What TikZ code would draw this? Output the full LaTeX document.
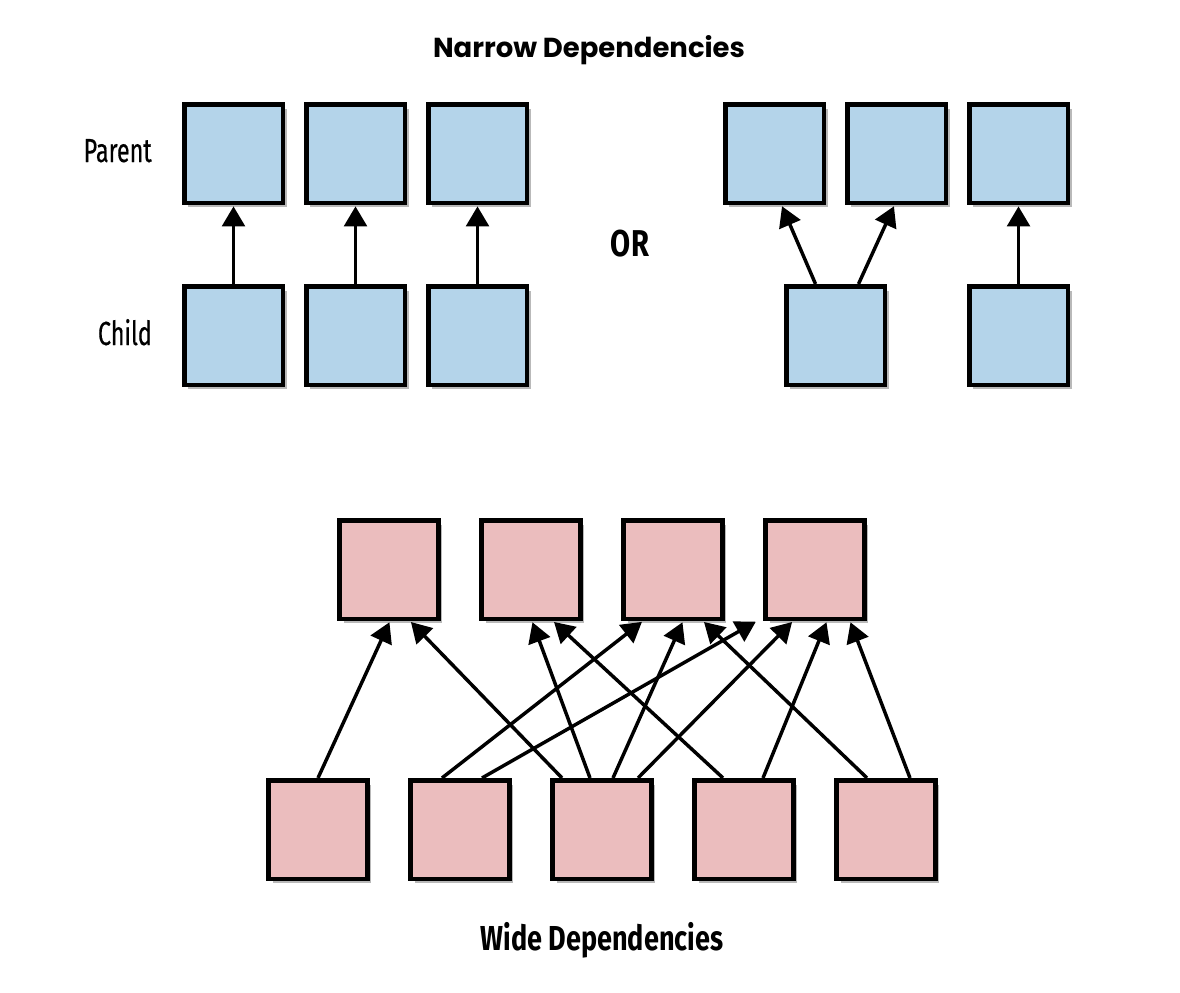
\documentclass[tikz,border=0pt]{standalone}
\usepackage{fontspec}
\setmainfont{Fira Sans}
\newfontfamily\titlefont{Poppins}
\newfontfamily\condfont[FakeStretch=0.70,FakeBold=0.4]{Fira Sans}
\newfontfamily\condboldfont[FakeStretch=0.78]{Fira Sans}
\usetikzlibrary{arrows.meta,shadows,calc}
\definecolor{narrowblue}{HTML}{B4D4EA}
\definecolor{widered}{HTML}{EBBDBE}
\tikzset{
  part/.style={draw=black, line width=3.4pt, minimum size=73.9pt, inner sep=0pt,
    drop shadow={shadow xshift=3pt, shadow yshift=-3.5pt, fill=black!55, opacity=0.5}},
  narrow/.style={part, fill=narrowblue},
  wide/.style={part, fill=widered},
  dep/.style={line width=2.6pt, shorten >=1pt, -{Triangle[length=15pt,width=17pt]}}
}
\begin{document}
\begin{tikzpicture}[x=0.75pt, y=-0.75pt]
  \useasboundingbox (0,0) rectangle (1180,992);

  % titles and row labels
  \node[anchor=base] (narrowtitle) at (589,57) {\titlefont\bfseries\fontsize{20.6pt}{24pt}\selectfont Narrow Dependencies};
  \node[anchor=base east, inner sep=0pt] (parentlbl) at (152,162) {\condfont\fontsize{25pt}{30pt}\selectfont Parent};
  \node[anchor=base east, inner sep=0pt] (childlbl) at (152,345) {\condfont\fontsize{25pt}{30pt}\selectfont Child};
  \node[anchor=base, inner sep=0pt] (orlbl) at (630,256) {\condboldfont\bfseries\fontsize{28pt}{32pt}\selectfont OR};
  \node[anchor=base, inner sep=0pt] (widetitle) at (602,950) {\condboldfont\bfseries\fontsize{26pt}{31pt}\selectfont Wide Dependencies};

  % narrow, one to one
  \node[narrow] (lp1) at (233.5,153.5) {};
  \node[narrow] (lp2) at (355.5,153.5) {};
  \node[narrow] (lp3) at (477.5,153.5) {};
  \node[narrow] (lc1) at (233.5,335.5) {};
  \node[narrow] (lc2) at (355.5,335.5) {};
  \node[narrow] (lc3) at (477.5,335.5) {};
  \draw[dep] (lc1.north) -- (lp1.south);
  \draw[dep] (lc2.north) -- (lp2.south);
  \draw[dep] (lc3.north) -- (lp3.south);

  % narrow, many to one
  \node[narrow] (rp1) at (774.5,153.5) {};
  \node[narrow] (rp2) at (896.5,153.5) {};
  \node[narrow] (rp3) at (1018.5,153.5) {};
  \node[narrow] (rc1) at (835.5,335.5) {};
  \node[narrow] (rc2) at (1018.5,335.5) {};
  \draw[dep] ($(rc1.north)+(-20,0)$) -- ($(rp1.south)+(7,0)$);
  \draw[dep] ($(rc1.north)+(23,0)$) -- ($(rp2.south)+(-2,0)$);
  \draw[dep] (rc2.north) -- (rp3.south);

  % wide
  \node[wide] (wp1) at (389,569.5) {};
  \node[wide] (wp2) at (531,569.5) {};
  \node[wide] (wp3) at (673,569.5) {};
  \node[wide] (wp4) at (815,569.5) {};
  \node[wide] (wc1) at (318,829.5) {};
  \node[wide] (wc2) at (460,829.5) {};
  \node[wide] (wc3) at (602,829.5) {};
  \node[wide] (wc4) at (744,829.5) {};
  \node[wide] (wc5) at (886,829.5) {};
  \draw[dep] (wc1.north) -- ($(wp1.south)+(1,0)$);
  \draw[dep] ($(wc3.north)+(-40,0)$) -- ($(wp1.south)+(21,0)$);
  \draw[dep] ($(wc3.north)+(-12,0)$) -- ($(wp2.south)+(1,0)$);
  \draw[dep] ($(wc4.north)+(-21,0)$) -- ($(wp2.south)+(22,0)$);
  \draw[dep] ($(wc2.north)+(-18,0)$) -- ($(wp3.south)+(-30,0)$);
  \draw[dep] ($(wc3.north)+(11,0)$) -- ($(wp3.south)+(10,0)$);
  \draw[dep] ($(wc5.north)+(-19,0)$) -- ($(wp3.south)+(30,0)$);
  \draw[dep] ($(wc2.north)+(22,0)$) -- ($(wp4.south)+(-58,0)$);
  \draw[dep] ($(wc3.north)+(36,0)$) -- ($(wp4.south)+(-22,0)$);
  \draw[dep] ($(wc4.north)+(19,0)$) -- ($(wp4.south)+(12,0)$);
  \draw[dep] ($(wc5.north)+(24,0)$) -- ($(wp4.south)+(35,0)$);
\end{tikzpicture}
\end{document}
